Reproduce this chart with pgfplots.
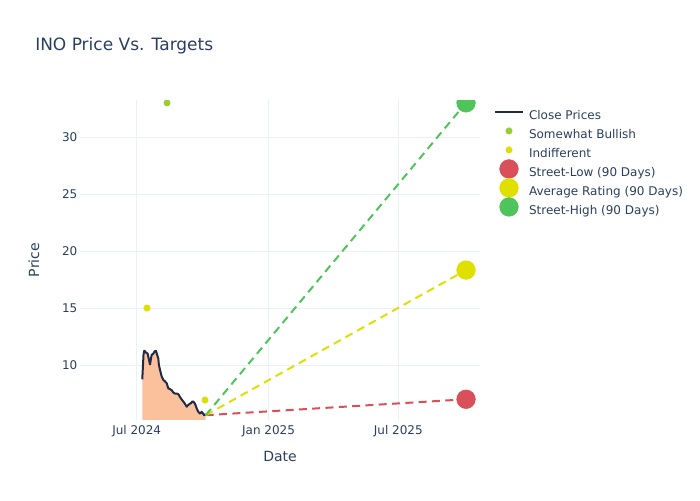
\documentclass[border=0pt]{standalone}
\usepackage{pgfplots}
\pgfplotsset{compat=1.18}
\usepackage{fontspec}
\setmainfont{DejaVu Sans}
\definecolor{txt}{HTML}{2A3F5F}
\definecolor{gridc}{HTML}{EBF0F8}
\definecolor{closeln}{HTML}{1F2A44}
\definecolor{closefill}{RGB}{251,192,156}
\definecolor{sbull}{HTML}{9ACD32}
\definecolor{indiff}{HTML}{DEDE00}
\definecolor{slow}{HTML}{D9505A}
\definecolor{savg}{HTML}{E0E000}
\definecolor{shigh}{HTML}{4EC45A}
\pgfplotsset{
  markleg/.style={legend image code/.code={\draw[overlay,##1] plot coordinates {(-15pt,3pt)};}},
  lineleg/.style={legend image code/.code={\draw[overlay,##1] plot coordinates {(-25.5pt,3pt) (-4.5pt,3pt)};}},
}
\begin{document}
\begin{tikzpicture}
\path (0,0) rectangle (525pt,375pt);
\node[anchor=west, text=txt, font=\fontsize{12.75}{15}\selectfont, inner sep=0pt] at (26.25pt,340.5pt) {INO Price Vs. Targets};
\begin{axis}[
  at={(60pt,60pt)}, anchor=south west,
  scale only axis, width=300pt, height=240pt,
  xmin=-79.1, xmax=479, ymin=5.18, ymax=33.25,
  axis line style={draw=none},
  major tick length=0pt,
  xtick={0,184,365}, xticklabels={Jul 2024, Jan 2025, Jul 2025},
  ytick={10,15,20,25,30},
  grid=major, major grid style={color=gridc, line width=0.75pt},
  tick label style={text=txt, font=\fontsize{9}{11}\selectfont},
  /pgf/number format/assume math mode=true,
  ytick style={draw=none}, xtick style={draw=none},
  yticklabel style={xshift=1.5pt},
  xticklabel style={yshift=-0.5pt},
  xlabel={Date}, ylabel={Price},
  label style={text=txt, font=\fontsize{10.5}{12}\selectfont},
  xlabel style={at={(axis description cs:0.5,-0.1125)}, anchor=center},
  ylabel style={at={(axis description cs:-0.115,0.5)}, anchor=center},
  clip marker paths=true,
  legend cell align=left,
  legend style={draw=none, fill=none, inner sep=0pt, outer sep=0pt,
    at={(axis description cs:1.1225,0.969)}, anchor=north west,
    font=\fontsize{9}{11}\selectfont, text=txt,
    nodes={inner sep=0pt, text height=7pt, text depth=2pt},
    row sep=5.25pt},
]
\addplot[fill=closefill, draw=none, forget plot] coordinates {
(7.8,8.75)(9.5,10.9)(10.5,11.25)(11.6,11.2)(13,11.1)(15.3,11.0)(17,10.5)(18.6,10.05)(20,10.6)(20.9,10.9)(23.2,11.0)(25,11.2)(26.9,11.25)(28.5,10.9)(30.1,10.6)(31,10.0)(32.5,9.6)(34.9,9.0)(37.1,8.7)(39,8.6)(41.9,8.4)(44.1,7.95)(46,7.9)(48.8,7.8)(51,7.6)(53.4,7.5)(56,7.5)(58,7.45)(60.4,7.2)(62.5,7.0)(65,6.8)(67.4,6.6)(69.8,6.35)(72,6.5)(74,6.6)(75.8,6.65)(77.5,6.8)(79,6.8)(81.4,6.6)(83.7,6.2)(86,5.9)(88.3,5.75)(90.7,5.9)(92.5,5.75)(94.3,5.6)(96.3,5.7)
} \closedcycle;
\addplot[color=closeln, line width=1.5pt, line join=round, lineleg] coordinates {
(7.8,8.75)(9.5,10.9)(10.5,11.25)(11.6,11.2)(13,11.1)(15.3,11.0)(17,10.5)(18.6,10.05)(20,10.6)(20.9,10.9)(23.2,11.0)(25,11.2)(26.9,11.25)(28.5,10.9)(30.1,10.6)(31,10.0)(32.5,9.6)(34.9,9.0)(37.1,8.7)(39,8.6)(41.9,8.4)(44.1,7.95)(46,7.9)(48.8,7.8)(51,7.6)(53.4,7.5)(56,7.5)(58,7.45)(60.4,7.2)(62.5,7.0)(65,6.8)(67.4,6.6)(69.8,6.35)(72,6.5)(74,6.6)(75.8,6.65)(77.5,6.8)(79,6.8)(81.4,6.6)(83.7,6.2)(86,5.9)(88.3,5.75)(90.7,5.9)(92.5,5.75)(94.3,5.6)(96.3,5.7)
};
\addlegendentry{Close Prices}
\addplot[color=slow, line width=1.5pt, dash pattern=on 6pt off 4pt, forget plot] coordinates {(96.3,5.6)(459.5,7.0)};
\addplot[color=savg, line width=1.5pt, dash pattern=on 6pt off 4pt, forget plot] coordinates {(96.3,5.6)(459.5,18.33)};
\addplot[color=shigh, line width=1.5pt, dash pattern=on 6pt off 4pt, forget plot] coordinates {(96.3,5.6)(459.5,33.0)};
\addplot[only marks, mark=*, mark size=2.4pt, color=sbull, markleg] coordinates {(42.3,33.0)};
\addlegendentry{Somewhat Bullish}
\addplot[only marks, mark=*, mark size=2.4pt, color=indiff, markleg] coordinates {(14.4,15.0)(95.3,6.93)};
\addlegendentry{Indifferent}
\addplot[only marks, mark=*, mark size=7pt, color=slow, markleg] coordinates {(459.5,7.0)};
\addlegendentry{Street-Low (90 Days)}
\addplot[only marks, mark=*, mark size=7pt, color=savg, markleg] coordinates {(459.5,18.33)};
\addlegendentry{Average Rating (90 Days)}
\addplot[only marks, mark=*, mark size=7pt, color=shigh, markleg] coordinates {(459.5,33.0)};
\addlegendentry{Street-High (90 Days)}
\end{axis}
\end{tikzpicture}
\end{document}
